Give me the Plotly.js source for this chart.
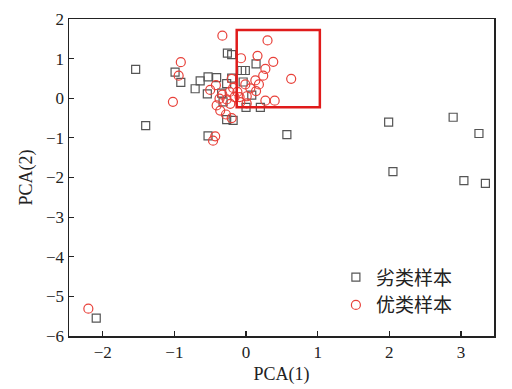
<!DOCTYPE html>
<html>
<head>
<meta charset="utf-8">
<script src="https://cdn.plot.ly/plotly-3.0.1.min.js"></script>
<style>html,body{margin:0;padding:0;background:#fff}#chart{width:512px;height:389px}</style>
</head>
<body>
<div id="chart"></div>
<script>
// 劣类样本 (inferior samples)
const poorX = [-1.54,-1.40,-0.99,-0.91,-0.71,-0.64,-0.53,-0.41,-0.54,-0.27,-0.26,-0.20,-0.06,-0.01,0.14,-0.20,-0.04,-0.34,0.00,0.20,-0.27,-0.18,-0.53,0.57,1.99,2.89,3.25,2.05,3.04,3.34,-2.09,0.08,-0.32];
const poorY = [0.73,-0.69,0.66,0.40,0.24,0.44,0.54,0.52,0.11,0.37,1.14,1.10,0.70,0.70,0.87,0.51,0.41,0.13,-0.23,-0.23,-0.54,-0.56,-0.95,-0.92,-0.60,-0.48,-0.89,-1.85,-2.08,-2.15,-5.55,0.08,-0.09];
// 优类样本 (superior samples)
const goodX = [-0.33,0.30,-0.91,-0.94,-1.02,-0.07,0.16,0.38,0.27,0.24,0.63,0.13,0.18,0.06,0.14,-0.01,0.27,0.40,0.01,-0.08,-0.20,-0.42,-0.50,-0.33,-0.23,-0.18,-0.12,-0.09,-0.16,-0.27,-0.37,-0.41,-0.36,-0.28,-0.20,-0.22,-0.43,-0.46,-2.20,0.01];
const goodY = [1.58,1.46,0.91,0.57,-0.09,1.01,1.07,0.92,0.74,0.57,0.49,0.45,0.35,0.25,0.18,0.35,-0.06,-0.06,-0.13,-0.10,0.49,0.33,0.21,0.09,0.16,0.26,0.16,0.03,0.03,-0.03,-0.01,-0.18,-0.31,-0.41,-0.50,-0.14,-0.96,-1.07,-5.31,0.05];
const seriesNames = ['劣类样本','优类样本'];
// highlighted region (red box)
const boxX = [-0.13, 1.03];
const boxY = [-0.23, 1.72];
const xTitle = 'PCA(1)';
const yTitle = 'PCA(2)';

const traces = [
  {x: poorX, y: poorY, name: seriesNames[0], type: 'scatter', mode: 'markers',
   marker: {symbol: 'square-open', size: 8, color: '#555555', line: {width: 1.2}}},
  {x: goodX, y: goodY, name: seriesNames[1], type: 'scatter', mode: 'markers',
   marker: {symbol: 'circle-open', size: 9, color: '#e8413a', line: {width: 1.2}}}
];

const axisCommon = {
  showgrid: false, zeroline: false, showline: true, mirror: true,
  linecolor: '#222', linewidth: 1.5, ticks: 'inside', ticklen: 5, tickwidth: 1.2, tickcolor: '#222',
  tickfont: {family: 'Liberation Serif, serif', size: 17, color: '#222'}
};

const layout = {
  width: 512, height: 389,
  margin: {l: 69, r: 18, t: 19, b: 53},
  paper_bgcolor: '#fff', plot_bgcolor: '#fff',
  showlegend: true,
  xaxis: Object.assign({}, axisCommon, {range: [-2.47, 3.46], tickvals: [-2,-1,0,1,2,3],
    title: {text: xTitle, font: {family: 'Liberation Serif, serif', size: 18, color: '#222'}, standoff: 6}}),
  yaxis: Object.assign({}, axisCommon, {range: [-6, 2], tickvals: [-6,-5,-4,-3,-2,-1,0,1,2],
    title: {text: yTitle, font: {family: 'Liberation Serif, serif', size: 18, color: '#222'}, standoff: 8}}),
  legend: {x: 0.628, y: 0.245, xanchor: 'left', yanchor: 'top', bgcolor: 'rgba(0,0,0,0)',
    font: {family: 'Noto Sans CJK SC, sans-serif', size: 19, color: '#222'}, itemwidth: 30},
  shapes: [{type: 'rect', xref: 'x', yref: 'y', x0: boxX[0], x1: boxX[1], y0: boxY[0], y1: boxY[1],
    line: {color: '#e01b1b', width: 2.5}}]
};

Plotly.newPlot('chart', traces, layout, {displayModeBar: false, staticPlot: true});
</script>
</body>
</html>
